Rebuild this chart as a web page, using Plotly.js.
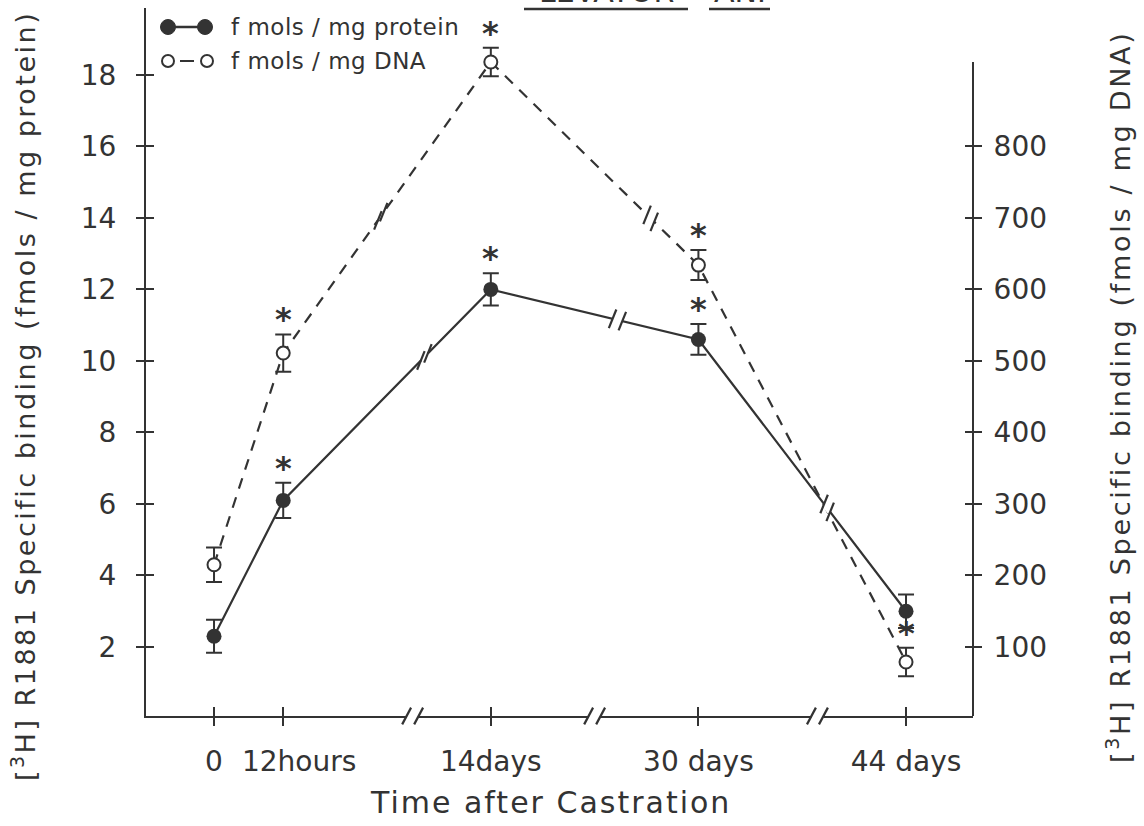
<!DOCTYPE html>
<html><head><meta charset="utf-8">
<script src="https://cdn.plot.ly/plotly-3.0.1.min.js"></script>
<style>html,body{margin:0;padding:0;background:#fff}</style>
</head><body><div id="chart" style="width:1144px;height:826px"></div>
<script>
// ---------- data ----------
const timeLabels = ["0", "12hours", "14days", "30 days", "44 days"];
const timePos = [0, 1, 4, 7, 10];
const timeLabelPos = [0, 1.23, 4, 7, 10];
const proteinMean = [2.3, 6.1, 12.0, 10.6, 3.0];
const proteinErr = [0.46, 0.49, 0.45, 0.43, 0.47];
const dnaMean = [215, 511, 918, 634, 79];
const dnaErr = [24, 26, 20, 21, 20];
const proteinStar = [false, true, true, true, false];
const dnaStar = [false, true, true, true, true];
const leftTicks = [2, 4, 6, 8, 10, 12, 14, 16, 18];
const rightTicks = [100, 200, 300, 400, 500, 600, 700, 800];
const axisBreaks = [2.87, 5.5, 8.72];
const proteinBreaks = [[1, 0.68], [2, 0.61], [3, 0.62]];
const dnaBreaks = [[1, 0.47], [2, 0.77]];

// ---------- layout constants ----------
const W = 1144, H = 826;
const M = {l: 146, r: 171, t: 8, b: 110};
const PW = W - M.l - M.r, PH = H - M.t - M.b;
const xRange = [-0.983, 10.968];
const yRange = [0.07, 19.87];
const y2Range = [yRange[0] * 50, yRange[1] * 50];
const INK = '#333';
const FONT = 'DejaVu Sans, sans-serif';
const px2paperX = p => (p - M.l) / PW;
const px2paperY = p => (H - M.b - p) / PH;

const kx = PW / (xRange[1] - xRange[0]);
const ky = PH / (yRange[1] - yRange[0]);
const ky2 = PH / (y2Range[1] - y2Range[0]);

const shapes = [];
function seg(xref, yref, xa, ya, x0, y0, x1, y1, color, width) {
  shapes.push({type: 'line', xref, yref, xsizemode: 'pixel', ysizemode: 'pixel',
    xanchor: xa, yanchor: ya, x0, y0, x1, y1, line: {color, width}});
}
function breakMark(xref, yref, xa, ya, ux, uy, gap, len, ang) {
  seg(xref, yref, xa, ya, -gap * ux, -gap * uy, gap * ux, gap * uy, '#fff', 6);
  const sx = Math.cos(ang) * len / 2, sy = Math.sin(ang) * len / 2;
  [-1, 1].forEach(s => {
    const cx = s * gap * ux, cy = s * gap * uy;
    seg(xref, yref, xa, ya, cx - sx, cy - sy, cx + sx, cy + sy, INK, 2.2);
  });
}
// axis breaks
axisBreaks.forEach(xb => breakMark('x', 'paper', xb, 0, 1, 0, 6, 19, 62 * Math.PI / 180));
// line breaks
function lineBreaks(list, ys, yref, kyy) {
  list.forEach(([i, t]) => {
    const xb = timePos[i] + t * (timePos[i + 1] - timePos[i]);
    const yb = ys[i] + t * (ys[i + 1] - ys[i]);
    let dx = (timePos[i + 1] - timePos[i]) * kx, dy = (ys[i + 1] - ys[i]) * kyy;
    const n = Math.hypot(dx, dy); dx /= n; dy /= n;
    breakMark('x', yref, xb, yb, dx, dy, 5, 20, 68 * Math.PI / 180);
  });
}
lineBreaks(proteinBreaks, proteinMean, 'y', ky);
lineBreaks(dnaBreaks, dnaMean, 'y2', ky2);

// right axis line (starts lower than the plot top)
shapes.push({type: 'line', xref: 'paper', yref: 'paper', x0: 1, x1: 1, y0: 0, y1: px2paperY(62),
  line: {color: INK, width: 2}});
// title underlines
shapes.push({type: 'line', xref: 'paper', yref: 'paper', x0: px2paperX(524), x1: px2paperX(688),
  y0: px2paperY(9), y1: px2paperY(9), line: {color: INK, width: 2.5}});
shapes.push({type: 'line', xref: 'paper', yref: 'paper', x0: px2paperX(709), x1: px2paperX(770),
  y0: px2paperY(9), y1: px2paperY(9), line: {color: INK, width: 2.5}});

// legend glyphs
function circ(xp, yp, r, fill, lw) {
  shapes.push({type: 'circle', xref: 'paper', yref: 'paper', xsizemode: 'pixel', ysizemode: 'pixel',
    xanchor: px2paperX(xp), yanchor: px2paperY(yp), x0: -r, x1: r, y0: -r, y1: r,
    fillcolor: fill, line: {color: INK, width: lw}});
}
const legRow = [27, 61];
seg('paper', 'paper', px2paperX(168), px2paperY(legRow[0]), 0, 0, 37, 0, INK, 2.5);
circ(168, legRow[0], 7.5, INK, 1);
circ(205, legRow[0], 7.5, INK, 1);
seg('paper', 'paper', px2paperX(180), px2paperY(legRow[1]), 0, 0, 14, 0, INK, 2);
circ(168, legRow[1], 6, '#fff', 2);
circ(207, legRow[1], 6, '#fff', 2);

// ---------- annotations ----------
const annotations = [];
const txt = (text, x, y, size, extra) => Object.assign({text, x, y, xref: 'paper', yref: 'paper',
  showarrow: false, font: {family: FONT, size, color: INK}}, extra || {});
const spaced = (s, px) => '<span style="letter-spacing:' + px + 'px">' + s + '</span>';
annotations.push(txt(spaced('f mols / mg protein', 0.5), px2paperX(229), px2paperY(legRow[0]), 23, {xanchor: 'left', yanchor: 'middle'}));
annotations.push(txt(spaced('f mols / mg DNA', 0.5), px2paperX(229), px2paperY(legRow[1]), 23, {xanchor: 'left', yanchor: 'middle'}));
annotations.push(txt('LEVATOR', px2paperX(606), px2paperY(11), 30, {xanchor: 'center', yanchor: 'bottom'}));
annotations.push(txt('ANI', px2paperX(740), px2paperY(11), 30, {xanchor: 'center', yanchor: 'bottom'}));
annotations.push(txt(spaced('Time after Castration', 2), px2paperX(550), px2paperY(802), 30, {xanchor: 'center', yanchor: 'middle'}));
annotations.push(txt(spaced('[<sup>3</sup>H] R1881 Specific binding (fmols / mg protein)', 2.5), px2paperX(24), px2paperY(396), 27,
  {xanchor: 'center', yanchor: 'middle', textangle: -90}));
annotations.push(txt(spaced('[<sup>3</sup>H] R1881 Specific binding (fmols / mg DNA)', 2.7), px2paperX(1118), px2paperY(397), 27,
  {xanchor: 'center', yanchor: 'middle', textangle: -90}));
function stars(flags, mean, err, yref) {
  flags.forEach((f, i) => {
    if (!f) return;
    annotations.push({text: '<b>*</b>', x: timePos[i], y: mean[i] + err[i], xref: 'x', yref,
      showarrow: false, yanchor: 'middle', yshift: 15, font: {family: FONT, size: 32, color: INK}});
  });
}
stars(proteinStar, proteinMean, proteinErr, 'y');
stars(dnaStar, dnaMean, dnaErr, 'y2');

// ---------- traces ----------
const helper = (xa, ya) => ({x: timePos, y: proteinMean, xaxis: xa, yaxis: ya, mode: 'none',
  type: 'scatter', hoverinfo: 'skip', showlegend: false});
const traces = [
  helper('x2', 'y'), helper('x3', 'y'), helper('x', 'y3'), helper('x', 'y4'),
  {x: timePos, y: proteinMean, yaxis: 'y', mode: 'lines+markers', name: 'f mols/mg protein',
   line: {color: INK, width: 2.2}, marker: {size: 15, color: INK},
   error_y: {type: 'data', array: proteinErr, visible: true, color: INK, thickness: 2, width: 8},
   showlegend: false, hoverinfo: 'skip'},
  {x: timePos, y: dnaMean, yaxis: 'y2', mode: 'lines+markers', name: 'f mols/mg DNA',
   line: {color: INK, width: 2.2, dash: '11px,9px'},
   marker: {size: 13, color: '#fff', line: {color: INK, width: 2}},
   error_y: {type: 'data', array: dnaErr, visible: true, color: INK, thickness: 2, width: 8},
   showlegend: false, hoverinfo: 'skip'}
];

const tickFont = {family: FONT, size: 28, color: INK};
const baseAxis = {showgrid: false, zeroline: false, fixedrange: true};
const tickStyle = {ticklen: 9, tickwidth: 2, tickcolor: INK};
const layout = {
  width: W, height: H, margin: M, paper_bgcolor: '#fff', plot_bgcolor: '#fff',
  showlegend: false, font: {family: FONT, color: INK},
  // labels only
  xaxis: Object.assign({}, baseAxis, {range: xRange, tickvals: timeLabelPos, ticktext: timeLabels,
    tickangle: 0, ticks: 'outside', ticklen: 9, tickcolor: 'rgba(0,0,0,0)', showline: true, linecolor: INK, linewidth: 2,
    tickfont: tickFont, ticklabelstandoff: 10}),
  // tick marks crossing the axis
  xaxis2: Object.assign({}, baseAxis, tickStyle, {range: xRange, overlaying: 'x', anchor: 'y', side: 'bottom',
    tickvals: timePos, showticklabels: false, ticks: 'inside', showline: false}),
  xaxis3: Object.assign({}, baseAxis, tickStyle, {range: xRange, overlaying: 'x', anchor: 'y', side: 'bottom',
    tickvals: timePos, showticklabels: false, ticks: 'outside', showline: false}),
  yaxis: Object.assign({}, baseAxis, {range: yRange, tickvals: leftTicks, ticks: 'outside', ticklen: 8,
    tickwidth: 2, tickcolor: INK, showline: true, linecolor: INK, linewidth: 2, tickfont: tickFont,
    ticklabelstandoff: 14}),
  yaxis2: Object.assign({}, baseAxis, {range: y2Range, overlaying: 'y', side: 'right', anchor: 'x',
    tickvals: rightTicks, ticks: 'outside', ticklen: 8, tickwidth: 2, tickcolor: INK, showline: false,
    tickfont: tickFont, ticklabelstandoff: 6}),
  yaxis3: Object.assign({}, baseAxis, {range: yRange, overlaying: 'y', side: 'left', anchor: 'x',
    tickvals: leftTicks, showticklabels: false, ticks: 'inside', ticklen: 8, tickwidth: 2, tickcolor: INK, showline: false}),
  yaxis4: Object.assign({}, baseAxis, {range: y2Range, overlaying: 'y', side: 'right', anchor: 'x',
    tickvals: rightTicks, showticklabels: false, ticks: 'inside', ticklen: 8, tickwidth: 2, tickcolor: INK, showline: false}),
  shapes, annotations
};
Plotly.newPlot('chart', traces, layout, {displayModeBar: false, staticPlot: true});
</script></body></html>
